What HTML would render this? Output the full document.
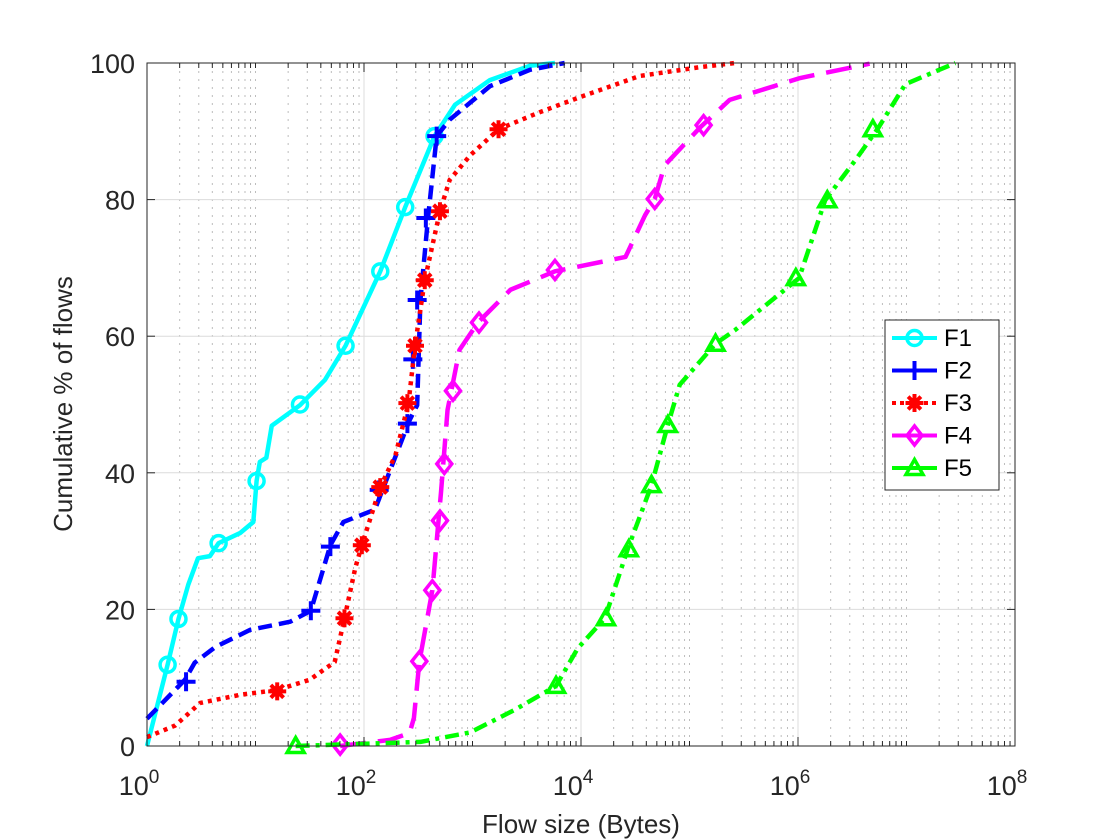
<!DOCTYPE html>
<html><head><meta charset="utf-8"><style>
body{margin:0;background:#fff;}
svg{display:block;font-family:"Liberation Sans",Arial,sans-serif;}
</style></head><body>
<svg id="chart" width="1120" height="840" viewBox="0 0 1120 840" xmlns="http://www.w3.org/2000/svg">
<rect width="1120" height="840" fill="#fff"/>
<g id="grid"></g><g id="series"></g><g id="axes"></g><g id="legend"></g>
</svg>
<script>
// data: [log10(bytes), cumulative %]
const f1Line=[[0,0],[0.19,11.9],[0.29,18.6],[0.38,23.6],[0.47,27.5],[0.58,27.8],[0.66,29.7],[0.86,31.2],[0.98,32.8],[1.01,38.8],[1.04,41.6],[1.10,42.2],[1.15,46.9],[1.41,49.9],[1.64,53.6],[1.83,58.6],[2.15,69.5],[2.38,78.9],[2.65,89.3],[2.84,93.9],[3.16,97.5],[3.53,99.6],[3.76,100]];
const f1Marks=[[0.19,11.9],[0.29,18.6],[0.66,29.7],[1.01,38.8],[1.41,50],[1.83,58.6],[2.15,69.5],[2.38,78.9],[2.65,89.3]];
const f2Line=[[0,4],[0.35,9.7],[0.44,12.2],[0.63,14.5],[0.95,17],[1.32,18.2],[1.51,19.8],[1.69,29.4],[1.81,32.8],[2.10,34.6],[2.42,47.7],[2.49,49.9],[2.52,65.3],[2.59,77.3],[2.67,89.3],[2.79,91.7],[3.16,96.6],[3.53,99],[3.85,100]];
const f2Marks=[[0.36,9.4],[1.51,19.8],[1.69,29.2],[2.14,37.5],[2.40,47.2],[2.45,56.6],[2.49,65.3],[2.57,77.3],[2.67,89.3]];
const f3Line=[[0,1.3],[0.26,3],[0.49,6.3],[0.86,7.5],[1.20,8.2],[1.50,9.7],[1.73,12.3],[1.82,18.7],[1.92,26.1],[1.98,29.4],[2.15,37.9],[2.29,42.6],[2.41,50.2],[2.47,58.6],[2.56,68.2],[2.70,78.3],[2.79,82.9],[2.98,86.5],[3.24,90.3],[3.62,92.8],[3.99,95],[4.54,98.1],[5.10,99.4],[5.42,100]];
const f3Marks=[[1.20,8],[1.82,18.7],[1.98,29.4],[2.15,37.9],[2.40,50.2],[2.47,58.6],[2.56,68.2],[2.70,78.3],[3.24,90.3]];
const f4Line=[[1.78,0],[2.24,0.9],[2.42,1.9],[2.46,4.1],[2.51,12.3],[2.63,22.8],[2.71,37.2],[2.77,49.2],[2.88,58],[3.05,62],[3.35,66.8],[3.76,69.5],[4.41,71.6],[4.59,77.7],[4.68,80.1],[4.77,85],[5.10,90.6],[5.37,94.6],[6.02,97.8],[6.66,99.9]];
const f4Marks=[[1.78,0.2],[2.51,12.4],[2.63,22.8],[2.70,33],[2.74,41.3],[2.82,52],[3.06,62],[3.76,69.7],[4.68,80.1],[5.13,90.9]];
const f5Line=[[1.37,0],[2.52,0.6],[2.98,2],[3.39,5.3],[3.77,8.8],[3.97,14.3],[4.22,18.7],[4.43,28.8],[4.65,38.2],[4.80,47],[4.91,52.9],[5.24,58.9],[5.42,60.9],[6.01,68.5],[6.25,79.9],[6.53,85.8],[6.74,90.5],[6.99,96.9],[7.45,100]];
const f5Marks=[[1.37,0],[3.77,8.8],[4.23,18.7],[4.44,28.8],[4.65,38.2],[4.80,47],[5.24,58.9],[5.98,68.5],[6.27,79.9],[6.69,90.3]];
const seriesNames=["F1","F2","F3","F4","F5"];
const yTicks=[0,20,40,60,80,100];
const xDecades=[0,1,2,3,4,5,6,7,8];
const xLabelDecades=[0,2,4,6,8];

const X0=147,X1=1015,Y0=746,Y1=63;
const xs=l=>X0+(l-0)/8*(X1-X0);
const ys=v=>Y0-v/100*(Y0-Y1);
const NS="http://www.w3.org/2000/svg";
function mk(tag,attrs,parent){const e=document.createElementNS(NS,tag);for(const k in attrs)e.setAttribute(k,attrs[k]);parent.appendChild(e);return e;}
const grid=document.getElementById('grid'),axes=document.getElementById('axes'),ser=document.getElementById('series'),leg=document.getElementById('legend');

// grid
for(const d of xDecades){
  if(d<8)for(let m=1;m<=9;m++){
    if(m===1&&xLabelDecades.includes(d))continue;
    const x=xs(d+Math.log10(m));
    const g=mk('line',{x1:x,x2:x,y1:Y1,y2:Y0,stroke:'#bdbdbd','stroke-width':1,'stroke-dasharray':'2,6'},grid);
    
    mk('line',{x1:x,x2:x,y1:Y0,y2:Y0-5,stroke:'#262626','stroke-width':1},axes);
    mk('line',{x1:x,x2:x,y1:Y1,y2:Y1+5,stroke:'#262626','stroke-width':1},axes);}
}
for(const d of xLabelDecades){if(d>0&&d<8){const g=mk('line',{x1:xs(d),x2:xs(d),y1:Y1,y2:Y0,stroke:'#dcdcdc','stroke-width':1},grid);
  }}
for(const t of yTicks){if(t>0&&t<100){const g=mk('line',{x1:X0,x2:X1,y1:ys(t),y2:ys(t),stroke:'#dcdcdc','stroke-width':1},grid);
  }}

// series
const styles=[
 {c:'#00ffff',d:'',mk:'circle',line:f1Line,marks:f1Marks},
 {c:'#0000ff',d:'14,7',mk:'plus',line:f2Line,marks:f2Marks},
 {c:'#ff0000',d:'4,5',mk:'star',line:f3Line,marks:f3Marks},
 {c:'#ff00ff',d:'26,12',mk:'diamond',line:f4Line,marks:f4Marks},
 {c:'#00ff00',d:'14,6,4,6',mk:'tri',line:f5Line,marks:f5Marks}];
function marker(type,x,y,c,parent){
  const g=mk('g',{},parent);
  if(type==='circle')mk('circle',{cx:x,cy:y,r:7.5,fill:'none',stroke:c,'stroke-width':3.5},g);
  if(type==='plus'){mk('path',{d:`M${x-9.5},${y}H${x+9.5}M${x},${y-9.5}V${y+9.5}`,stroke:c,'stroke-width':4},g);}
  if(type==='star'){for(let a=0;a<4;a++){const r=a*Math.PI/4;mk('line',{x1:x-9*Math.cos(r),y1:y-9*Math.sin(r),x2:x+9*Math.cos(r),y2:y+9*Math.sin(r),stroke:c,'stroke-width':4},g);}mk('circle',{cx:x,cy:y,r:5.5,fill:c},g);}
  if(type==='diamond')mk('path',{d:`M${x},${y-9.5}L${x+7.5},${y}L${x},${y+9.5}L${x-7.5},${y}Z`,fill:'none',stroke:c,'stroke-width':3.5},g);
  if(type==='tri')mk('path',{d:`M${x},${y-8.5}L${x+8.5},${y+6.5}L${x-8.5},${y+6.5}Z`,fill:'none',stroke:c,'stroke-width':3.5},g);
  return g;}
styles.forEach((s,i)=>{
  const p=mk('polyline',{points:s.line.map(q=>xs(q[0])+','+ys(q[1])).join(' '),fill:'none',stroke:s.c,'stroke-width':4.5,'stroke-dasharray':s.d,'stroke-linejoin':'round'},ser);
  
  
  s.marks.forEach(q=>{const m=marker(s.mk,xs(q[0]),ys(q[1]),s.c,ser);
    
    });
});

// axes box
const box=mk('rect',{x:X0,y:Y1,width:X1-X0,height:Y0-Y1,fill:'none',stroke:'#262626','stroke-width':1},axes);

for(const t of yTicks){
  mk('line',{x1:X0,x2:X0+8,y1:ys(t),y2:ys(t),stroke:'#262626'},axes);
  mk('line',{x1:X1,x2:X1-8,y1:ys(t),y2:ys(t),stroke:'#262626'},axes);
  const tx=mk('text',{x:X0-12,y:ys(t)+10,'text-anchor':'end','font-size':27,fill:'#262626'},axes);tx.textContent=t;
  }
for(const d of xLabelDecades){
  mk('line',{x1:xs(d),x2:xs(d),y1:Y0,y2:Y0-9,stroke:'#262626'},axes);
  mk('line',{x1:xs(d),x2:xs(d),y1:Y1,y2:Y1+9,stroke:'#262626'},axes);
  const tx=mk('text',{x:xs(d)-8,y:795,'text-anchor':'middle','font-size':27,fill:'#262626'},axes);
  
  tx.textContent='10';const sp=mk('tspan',{dy:-12,'font-size':19},tx);sp.textContent=d;}
const xt=mk('text',{x:581,y:833,'text-anchor':'middle','font-size':26,fill:'#262626'},axes);xt.textContent='Flow size (Bytes)';

const yt=mk('text',{x:0,y:0,'text-anchor':'middle','font-size':26,fill:'#262626',transform:'translate(72,404) rotate(-90)'},axes);yt.textContent='Cumulative % of flows';


// legend
const lb=mk('rect',{x:885,y:320,width:114,height:170,fill:'#fff',stroke:'#262626','stroke-width':1},leg);

styles.forEach((s,i)=>{
  const y=338+i*32.5;
  const g=mk('g',{},leg);
  
  
  mk('line',{x1:892,x2:937,y1:y,y2:y,stroke:s.c,'stroke-width':4,'stroke-dasharray':s.d==='4,5'?'4,4':''},g);
  marker(s.mk,914.5,y,s.c,g);
  const t=mk('text',{x:944,y:y+8,'font-size':24,fill:'#000'},g);t.textContent=seriesNames[i];
});
</script>
</body></html>
